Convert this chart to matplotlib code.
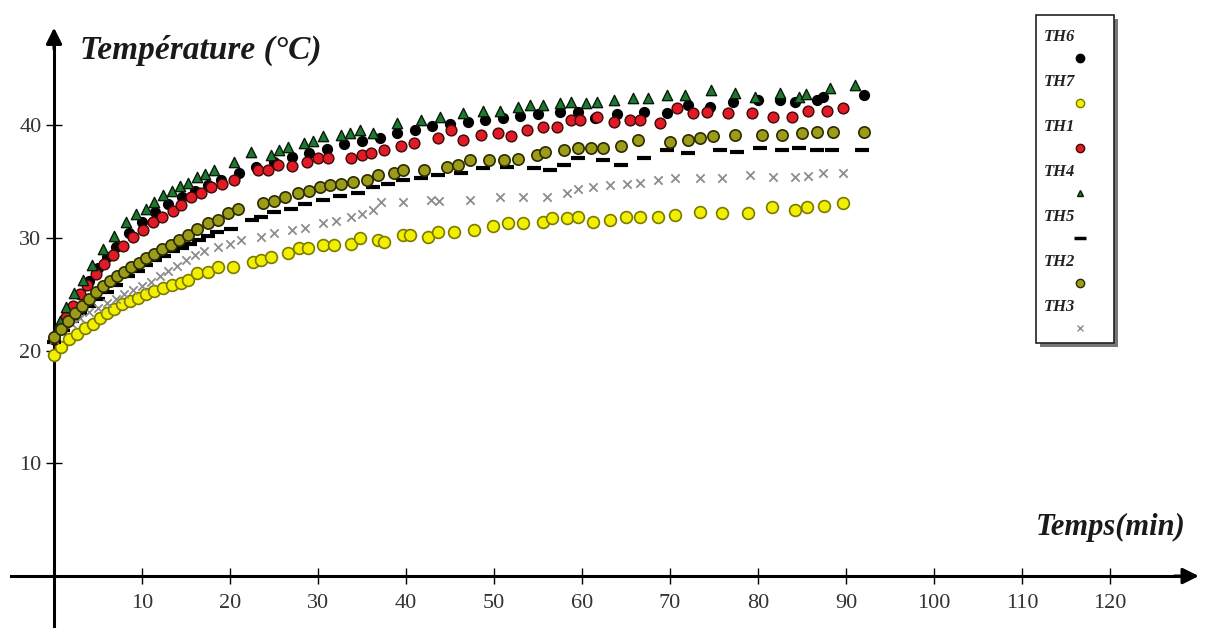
import matplotlib
matplotlib.use("Agg")
import matplotlib.pyplot as plt
from matplotlib.patches import Rectangle

# ── données ──
t_th6 = [0, 1, 2, 3, 4, 5, 6, 7, 8.5, 10, 11.5, 13, 14.5, 16, 17.5, 19, 21, 23, 25, 27,
         29, 31, 33, 35, 37, 39, 41, 43, 45, 47, 49, 51, 53, 55, 57.5, 59.5, 61.5, 64, 67, 69.7,
         72, 74.5, 77.2, 80, 82.5, 84.2, 86.7, 87.4, 92]
T_th6 = [21.2, 22.5, 23.8, 25.0, 26.2, 27.3, 28.3, 29.2, 30.4, 31.4, 32.3, 33.0, 33.6, 34.2, 34.7, 35.1, 35.8, 36.3, 36.7, 37.2,
         37.5, 37.9, 38.3, 38.6, 38.9, 39.3, 39.6, 39.9, 40.1, 40.3, 40.5, 40.6, 40.8, 41.0, 41.2, 41.2, 40.6, 41.0, 41.2, 41.1,
         41.8, 41.6, 42.1, 42.2, 42.2, 42.1, 42.2, 42.5, 42.7]

t_th7 = [0, 0.8, 1.7, 2.6, 3.5, 4.4, 5.2, 6, 6.8, 7.7, 8.6, 9.5, 10.4, 11.4, 12.4, 13.4, 14.4, 15.2, 16.3, 17.5,
         18.6, 20.3, 22.6, 23.5, 24.6, 26.6, 27.8, 28.9, 30.6, 31.8, 33.7, 34.8, 36.8, 37.5, 39.7, 40.5, 42.5, 43.6, 45.4, 47.7,
         49.9, 51.6, 53.3, 55.6, 56.6, 58.3, 59.5, 61.3, 63.2, 65, 66.6, 68.6, 70.6, 73.4, 75.9, 78.9, 81.6, 84.2, 85.6, 87.5, 89.6]
T_th7 = [19.6, 20.3, 21.0, 21.5, 22.0, 22.4, 22.9, 23.3, 23.7, 24.1, 24.4, 24.7, 25.0, 25.3, 25.6, 25.8, 26.0, 26.3, 26.9, 27.0,
         27.4, 27.4, 27.9, 28.0, 28.3, 28.7, 29.1, 29.1, 29.4, 29.4, 29.5, 30.0, 29.8, 29.6, 30.3, 30.3, 30.1, 30.5, 30.5, 30.7,
         31.1, 31.3, 31.3, 31.4, 31.8, 31.8, 31.9, 31.4, 31.6, 31.9, 31.9, 31.9, 32.0, 32.3, 32.2, 32.2, 32.7, 32.5, 32.7, 32.8, 33.1]

t_th1 = [0, 0.7, 1.4, 2.2, 3, 3.8, 4.8, 5.7, 6.7, 7.8, 9, 10.1, 11.2, 12.3, 13.5, 14.4, 15.6, 16.7, 17.8, 19.1,
         20.4, 23.2, 24.3, 25.4, 27, 28.8, 30, 31.1, 33.7, 35, 36, 37.5, 39.4, 40.9, 43.6, 45.1, 46.5, 48.5, 50.4, 51.9,
         53.8, 55.6, 57.2, 58.7, 59.8, 61.7, 63.6, 65.5, 66.6, 68.9, 70.8, 72.6, 74.2, 76.6, 79.3, 81.7, 83.9, 85.7, 87.8, 89.7]
T_th1 = [21.0, 22.0, 23.0, 24.0, 25.0, 25.8, 26.8, 27.7, 28.5, 29.3, 30.1, 30.7, 31.4, 31.9, 32.4, 32.9, 33.6, 34.0, 34.5, 34.8,
         35.1, 36.0, 36.0, 36.5, 36.4, 36.7, 37.1, 37.1, 37.1, 37.4, 37.5, 37.8, 38.2, 38.4, 38.9, 39.6, 38.7, 39.1, 39.3, 39.0,
         39.6, 39.8, 39.8, 40.5, 40.5, 40.7, 40.3, 40.5, 40.5, 40.2, 41.5, 41.1, 41.2, 41.1, 41.1, 40.7, 40.7, 41.3, 41.3, 41.5]

t_th4 = [0, 0.7, 1.4, 2.3, 3.3, 4.3, 5.6, 6.8, 8.2, 9.3, 10.4, 11.4, 12.4, 13.4, 14.3, 15.2, 16.3, 17.2, 18.2, 20.4,
         22.4, 24.6, 25.6, 26.6, 28.4, 29.4, 30.6, 32.6, 33.6, 34.8, 36.3, 39, 41.7, 43.9, 46.5, 48.8, 50.7, 52.7, 54.1, 55.6,
         57.5, 58.7, 60.5, 61.7, 63.6, 65.8, 67.5, 69.7, 71.7, 74.6, 77.4, 79.7, 82.5, 84.6, 85.4, 88.2, 91]
T_th4 = [21.5, 22.6, 23.9, 25.1, 26.3, 27.6, 29.0, 30.2, 31.4, 32.1, 32.6, 33.2, 33.8, 34.2, 34.6, 34.9, 35.4, 35.7, 36.0, 36.7,
         37.6, 37.4, 37.8, 38.1, 38.4, 38.6, 39.0, 39.1, 39.3, 39.6, 39.3, 40.2, 40.5, 40.7, 41.1, 41.3, 41.3, 41.6, 41.8, 41.8,
         42.0, 42.1, 42.0, 42.1, 42.2, 42.4, 42.4, 42.7, 42.7, 43.1, 42.9, 42.5, 42.9, 42.5, 42.8, 43.3, 43.6]

t_th5 = [0, 1, 2, 3, 4, 5, 6, 7, 8.4, 9.5, 10.5, 11.5, 12.5, 13.5, 14.5, 15.5, 16.5, 17.5, 18.5, 20.1,
         22.5, 23.5, 25, 26.9, 28.5, 30.6, 32.5, 34.5, 36.3, 38, 39.7, 41.7, 43.6, 46.2, 48.8, 51.5, 54.5, 56.4, 57.9, 59.5,
         62.4, 64.4, 67, 69.7, 72, 75.7, 77.6, 80.2, 82.7, 84.6, 86.7, 88.4, 91.8]
T_th5 = [20.8, 21.8, 22.6, 23.3, 24.0, 24.6, 25.2, 25.8, 26.6, 27.1, 27.6, 28.0, 28.4, 28.8, 29.1, 29.5, 29.8, 30.2, 30.5, 30.8,
         31.6, 31.9, 32.3, 32.6, 33.0, 33.4, 33.7, 34.0, 34.5, 34.8, 35.1, 35.3, 35.6, 35.8, 36.2, 36.3, 36.2, 36.0, 36.5, 37.1,
         36.9, 36.5, 37.1, 37.8, 37.5, 37.8, 37.6, 38.0, 37.8, 38.0, 37.8, 37.8, 37.8]

t_th2 = [0, 0.8, 1.6, 2.4, 3.2, 4, 4.8, 5.6, 6.4, 7.2, 8, 8.8, 9.6, 10.5, 11.4, 12.3, 13.3, 14.2, 15.2, 16.2,
         17.5, 18.6, 19.8, 20.9, 23.8, 25, 26.2, 27.7, 29, 30.2, 31.4, 32.6, 34, 35.6, 36.8, 38.6, 39.7, 42, 44.7, 45.9,
         47.3, 49.4, 51.1, 52.7, 54.9, 55.8, 57.9, 59.5, 61, 62.4, 64.4, 66.4, 70, 72, 73.4, 74.9, 77.4, 80.5, 82.7, 85,
         86.7, 88.5, 92]
T_th2 = [21.2, 21.9, 22.6, 23.3, 24.0, 24.6, 25.2, 25.7, 26.2, 26.6, 27.0, 27.4, 27.8, 28.2, 28.6, 29.0, 29.4, 29.8, 30.3, 30.8,
         31.3, 31.6, 32.2, 32.6, 33.1, 33.3, 33.6, 34.0, 34.2, 34.5, 34.7, 34.8, 35.0, 35.1, 35.6, 35.8, 36.0, 36.0, 36.3, 36.5,
         36.9, 36.9, 36.9, 37.0, 37.4, 37.6, 37.8, 38.0, 38.0, 38.0, 38.2, 38.7, 38.5, 38.7, 38.9, 39.0, 39.1, 39.1, 39.1, 39.3,
         39.4, 39.4, 39.4]

t_th3 = [0, 1, 2, 3, 4, 5, 6, 7, 8, 9, 10, 11, 12, 13, 14, 15, 16, 17, 18.6, 20,
         21.2, 23.5, 25, 27, 28.5, 30.6, 32, 33.7, 35, 36.3, 37.1, 39.7, 42.8, 43.8, 47.3, 50.7, 53.3, 56, 58.3, 59.5,
         61.3, 63.2, 65.1, 66.6, 68.6, 70.6, 73.4, 75.9, 79.1, 81.7, 84.2, 85.7, 87.4, 89.6]
T_th3 = [21.0, 21.8, 22.4, 22.9, 23.4, 23.8, 24.2, 24.6, 25.0, 25.4, 25.7, 26.1, 26.6, 27.1, 27.5, 28.0, 28.5, 28.8, 29.2, 29.5,
         29.8, 30.1, 30.4, 30.7, 30.9, 31.3, 31.5, 31.9, 32.1, 32.5, 33.2, 33.2, 33.4, 33.3, 33.4, 33.6, 33.6, 33.6, 34.0, 34.3,
         34.5, 34.7, 34.8, 34.9, 35.1, 35.3, 35.3, 35.3, 35.6, 35.4, 35.4, 35.5, 35.8, 35.8]

x_ticks = [10, 20, 30, 40, 50, 60, 70, 80, 90, 100, 110, 120]
y_ticks = [10, 20, 30, 40]
legend_labels = ["TH6", "TH7", "TH1", "TH4", "TH5", "TH2", "TH3"]

SERIF = ["Liberation Serif", "DejaVu Serif"]
W, H = 1210, 628

fig = plt.figure(figsize=(W / 100, H / 100), dpi=100)
ax = fig.add_axes([0, 0, 1, 1])
ax.set_xlim(-6.14, 131.36)
ax.set_ylim(-4.61, 51.11)

# axes en croix, passant par l'origine
for s in ["top", "right"]:
    ax.spines[s].set_visible(False)
ax.spines["bottom"].set_position(("data", 0))
ax.spines["left"].set_position(("data", 0))
ax.spines["bottom"].set_bounds(-4.9, 129)
ax.spines["left"].set_bounds(-4.61, 47.5)
for s in ["bottom", "left"]:
    ax.spines[s].set_linewidth(2.2)
ax.annotate("", xy=(130.4, 0), xytext=(127, 0),
            arrowprops=dict(arrowstyle="-|>", color="black", lw=2.2, mutation_scale=24))
ax.annotate("", xy=(0, 48.9), xytext=(0, 46.5),
            arrowprops=dict(arrowstyle="-|>", color="black", lw=2.2, mutation_scale=24))

ax.set_xticks(x_ticks)
ax.set_yticks(y_ticks)
ax.tick_params(axis="x", direction="inout", length=12, width=1, pad=7, labelsize=16, labelcolor="#333333")
ax.tick_params(axis="y", direction="inout", length=12, width=1, pad=3, labelsize=16, labelcolor="#333333")
for lab in ax.get_xticklabels() + ax.get_yticklabels():
    lab.set_family(SERIF)

# séries
ax.scatter(t_th6, T_th6, marker="o", s=50, c="black", zorder=3)
ax.scatter(t_th7, T_th7, marker="o", s=72, c="#f2f000", edgecolors="#7a7a00", linewidths=1.2, zorder=3)
ax.scatter(t_th1, T_th1, marker="o", s=60, c="#e01b25", edgecolors="#3a0808", linewidths=1.0, zorder=3)
ax.scatter(t_th4, T_th4, marker="^", s=55, c="#1c7a30", edgecolors="#0a1a0a", linewidths=1.0, zorder=4)
ax.scatter(t_th5, T_th5, marker="_", s=110, c="black", linewidths=3, zorder=3)
ax.scatter(t_th2, T_th2, marker="o", s=66, c="#9c9c18", edgecolors="#2b2b00", linewidths=1.2, zorder=4)
ax.scatter(t_th3, T_th3, marker="x", s=36, c="#8c8c8c", linewidths=1.3, zorder=3)

# titres des axes
ax.text(3, 46.6, "Température (°C)", fontsize=24, fontweight="bold", style="italic",
        family=SERIF, color="#1a1a1a", va="center", ha="left")
ax.text(111.6, 4.3, "Temps(min)", fontsize=22, fontweight="bold", style="italic",
        family=SERIF, color="#1a1a1a", va="center", ha="left")

# légende dessinée à la main (boîte avec ombre)
def fx(px): return px / W
def fy(py): return 1 - py / H

fig.patches.append(Rectangle((fx(1040), fy(347)), fx(78), 328 / H, transform=fig.transFigure,
                             facecolor="#777777", edgecolor="none", zorder=1))
fig.patches.append(Rectangle((fx(1036), fy(343)), fx(78), 328 / H, transform=fig.transFigure,
                             facecolor="white", edgecolor="#222222", lw=1.2, zorder=2))
leg_style = [
    dict(marker="o", color="black", mec="black", ms=6),
    dict(marker="o", color="#f2f000", mec="#7a7a00", ms=6),
    dict(marker="o", color="#e01b25", mec="#3a0808", ms=6),
    dict(marker="^", color="#1c7a30", mec="#0a1a0a", ms=5),
    dict(marker="_", color="black", mec="black", ms=9, mew=2.5),
    dict(marker="o", color="#9c9c18", mec="#2b2b00", ms=6),
    dict(marker="x", color="#8c8c8c", mec="#8c8c8c", ms=5),
]
for i, (lab, st) in enumerate(zip(legend_labels, leg_style)):
    ty = 37 + i * 45
    fig.text(fx(1044), fy(ty), lab, fontsize=12, fontweight="bold", style="italic",
             family=SERIF, color="#222222", va="center", ha="left", zorder=3)
    fig.add_artist(plt.Line2D([fx(1080)], [fy(ty + 21)], linestyle="none",
                              transform=fig.transFigure, zorder=3, **st))

plt.savefig("out.png", dpi=100)
plt.close()
